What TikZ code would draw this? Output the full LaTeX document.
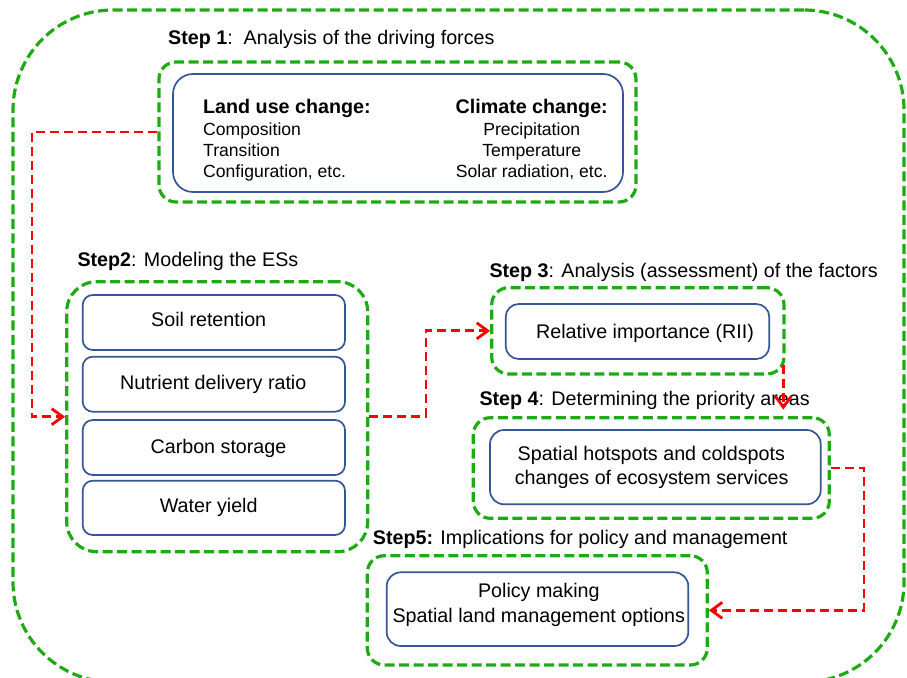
\documentclass[tikz,border=0pt]{standalone}
\usepackage{fontspec}
\setmainfont{Liberation Sans}
\usetikzlibrary{arrows.meta}
\definecolor{dgreen}{RGB}{30,170,20}
\definecolor{dblue}{RGB}{52,86,150}
\definecolor{dred}{RGB}{255,0,0}
\newcommand\mainsz{\fontsize{19.7}{23}\selectfont}
\newcommand\itemsz{\fontsize{17.6}{21}\selectfont}
\begin{document}
\begin{tikzpicture}[x=1pt,y=-1pt,
  greenbox/.style={draw=dgreen, line width=3.2pt, dash pattern=on 10pt off 4.5pt, rounded corners=#1, inner sep=0pt},
  bluebox/.style={draw=dblue, line width=1.7pt, rounded corners=#1, inner sep=0pt},
  txt/.style={inner sep=0pt, font=\mainsz, text=black},
  itm/.style={inner sep=0pt, font=\itemsz, text=black},
  redarrow/.style={draw=dred, line width=2.8pt, dash pattern=on 9pt off 5pt,
    -{Straight Barb[length=11pt,width=16pt]}}]
\useasboundingbox (0,0) rectangle (907,677);
\begin{scope}
\clip (0,0) rectangle (907,677);
\node[greenbox=100pt, minimum width=891pt, minimum height=672pt] (outer) at (458.5,346) {};
\end{scope}

% Step 1
\node[txt, anchor=base west] (h1) at (168,44.3) {\textbf{Step 1}:\ \ Analysis of the driving forces};
\node[greenbox=17pt, minimum width=477pt, minimum height=140pt] (g1) at (397.5,132) {};
\node[bluebox=20pt, minimum width=450pt, minimum height=118pt] (b1) at (398,133) {};
\node[txt, anchor=base west] (lu) at (203,113.3) {\textbf{Land use change:}};
\node[itm, anchor=base west] (lu1) at (203,135) {Composition};
\node[itm, anchor=base west] (lu2) at (203,156.7) {Transition};
\node[itm, anchor=base west] (lu3) at (203,177.7) {Configuration, etc.};
\node[txt, anchor=base] (cc) at (531.7,113.3) {\textbf{Climate change:}};
\node[itm, anchor=base] (cc1) at (531.7,135) {Precipitation};
\node[itm, anchor=base] (cc2) at (531.7,156.7) {Temperature};
\node[itm, anchor=base] (cc3) at (531.7,177.7) {Solar radiation, etc.};

% Step 2
\node[txt, anchor=base west] (h2) at (77.3,266.7) {\textbf{Step2}: Modeling the ESs};
\node[greenbox=30pt, minimum width=301pt, minimum height=270pt] (g2) at (217.2,416.7) {};
\node[bluebox=10pt, minimum width=262.3pt, minimum height=55pt] (s1) at (213.85,322.5) {};
\node[bluebox=10pt, minimum width=262.3pt, minimum height=55pt] (s2) at (213.85,384.2) {};
\node[bluebox=10pt, minimum width=262.3pt, minimum height=55pt] (s3) at (213.85,447.5) {};
\node[bluebox=10pt, minimum width=262.3pt, minimum height=54.3pt] (s4) at (213.85,507.85) {};
\node[txt, anchor=base] (s1t) at (208.7,326) {Soil retention};
\node[txt, anchor=base] (s2t) at (213.3,389) {Nutrient delivery ratio};
\node[txt, anchor=base] (s3t) at (218.5,453.3) {Carbon storage};
\node[txt, anchor=base] (s4t) at (208.7,512.7) {Water yield};

% Step 3
\node[txt, anchor=base west] (h3) at (489.3,277.7) {\textbf{Step 3}: Analysis (assessment) of the factors};
\node[greenbox=17pt, minimum width=292.3pt, minimum height=86.3pt] (g3) at (637.85,330.85) {};
\node[bluebox=13pt, minimum width=263.6pt, minimum height=55pt] (b3) at (637.5,331.5) {};
\node[txt, anchor=base] (b3t) at (645,338.3) {Relative importance (RII)};

% Step 4
\node[txt, anchor=base west] (h4) at (479.3,405) {\textbf{Step 4}: Determining the priority areas};
\node[greenbox=17pt, minimum width=356pt, minimum height=100.6pt] (g4) at (651.3,468) {};
\node[bluebox=14pt, minimum width=330.7pt, minimum height=74.3pt] (b4) at (655.35,467.15) {};
\node[txt, anchor=base] (b4t1) at (651.3,460) {Spatial hotspots and coldspots};
\node[txt, anchor=base] (b4t2) at (651.7,484.3) {changes of ecosystem services};

% Step 5
\node[txt, anchor=base west] (h5) at (372.7,544.3) {\textbf{Step5:} Implications for policy and management};
\node[greenbox=17pt, minimum width=340pt, minimum height=109.3pt] (g5) at (537.3,610.35) {};
\node[bluebox=14pt, minimum width=301.6pt, minimum height=73.7pt] (b5) at (537.5,609.15) {};
\node[txt, anchor=base] (b5t1) at (538.8,597.7) {Policy making};
\node[txt, anchor=base] (b5t2) at (538.8,622.3) {Spatial land management options};

% Connectors
\coordinate (k1) at (32,300);
\coordinate (k2) at (426,370);
\coordinate (a3) at (783.3,365);
\coordinate (k4) at (864,540);
\draw[redarrow] (g1.west) -| (k1) |- (g2.west);
\draw[redarrow] (g2.east) -| (k2) |- (g3.west);
\draw[redarrow, shorten >=6.5pt] (a3) -- (a3 |- g4.north);
\draw[redarrow] (g4.east) -| (k4) |- (g5.east);
\end{tikzpicture}
\end{document}
